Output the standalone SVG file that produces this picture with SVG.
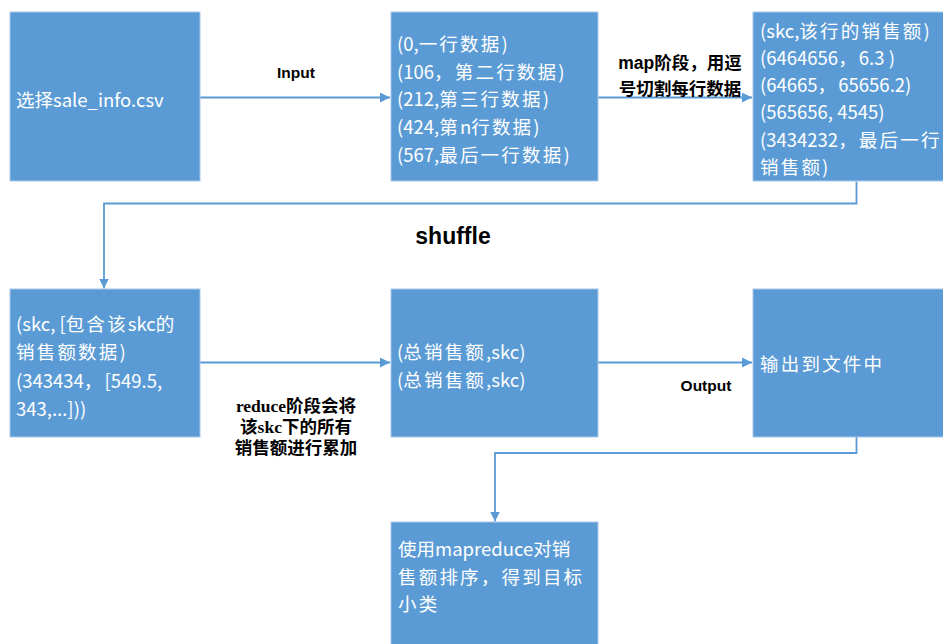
<svg xmlns="http://www.w3.org/2000/svg" width="943" height="644" viewBox="0 0 943 644">
<defs>
<marker id="arr" markerUnits="userSpaceOnUse" markerWidth="11" markerHeight="10" refX="10" refY="5" orient="auto">
<path d="M0,0 L10,5 L0,10 Z" fill="#5B9BD5"/>
</marker>
<style>
.box{fill:#5B9BD5;stroke:#A9C8EA;stroke-width:1}
.t{fill:#FFFFFF;font-family:"Noto Sans CJK SC","Noto Sans",sans-serif;font-size:18.5px;dominant-baseline:central}
.c{letter-spacing:2.2px}
.lbl{fill:#000;font-family:"Liberation Sans","Noto Sans CJK SC",sans-serif;font-weight:bold;dominant-baseline:central;text-anchor:middle}
.cn{fill:#000;font-family:"Liberation Serif","Noto Sans CJK SC",serif;font-weight:bold;font-size:17.5px;dominant-baseline:central;text-anchor:middle}
.ln{fill:none;stroke:#5B9BD5;stroke-width:1.8}
</style>
</defs>
<rect width="943" height="644" fill="#FFFFFF"/>
<g id="connectors">
<line class="ln" x1="200" y1="97.5" x2="390" y2="97.5" marker-end="url(#arr)"/>
<line class="ln" x1="598" y1="97.5" x2="752" y2="97.5" marker-end="url(#arr)"/>
<polyline class="ln" points="856.5,181.5 856.5,203.5 104,203.5 104,288.5" marker-end="url(#arr)"/>
<line class="ln" x1="200" y1="362.5" x2="390" y2="362.5" marker-end="url(#arr)"/>
<line class="ln" x1="598" y1="362.5" x2="752" y2="362.5" marker-end="url(#arr)"/>
<polyline class="ln" points="856.5,437 856.5,453 495,453 495,521.5" marker-end="url(#arr)"/>
</g>
<g id="labels">
<text class="lbl" x="296" y="72" font-size="15.5">Input</text>
<text class="lbl" x="680" y="63" font-size="17.5">map阶段，用逗</text>
<text class="lbl" x="680" y="89" font-size="17.5">号切割每行数据</text>
<text class="lbl" x="453" y="236" font-size="23">shuffle</text>
<text class="cn" x="296" y="406">reduce阶段会将</text>
<text class="cn" x="296" y="427">该skc下的所有</text>
<text class="cn" x="296" y="448">销售额进行累加</text>
<text class="lbl" x="706" y="385" font-size="15.5">Output</text>
</g>
<g id="n1">
<rect class="box" x="10" y="12" width="190" height="169"/>
<text class="t" x="16" y="99">选择sale_info.csv</text>
</g>
<g id="n2">
<rect class="box" x="391" y="12" width="207" height="169"/>
<text class="t" x="397" y="43">(0,<tspan class="c">一行数据</tspan>)</text>
<text class="t" x="397" y="71">(106<tspan class="c">，第二行数据</tspan>)</text>
<text class="t" x="397" y="98">(212,<tspan class="c">第三行数据</tspan>)</text>
<text class="t" x="397" y="126">(424,<tspan class="c">第</tspan>n<tspan class="c">行数据</tspan>)</text>
<text class="t" x="397" y="154">(567,<tspan class="c">最后一行数据</tspan>)</text>
</g>
<g id="n3">
<rect class="box" x="753" y="12" width="200" height="169"/>
<text class="t" x="760" y="30">(skc,<tspan class="c">该行的销售额</tspan>)</text>
<text class="t" x="760" y="57">(6464656<tspan class="c">，</tspan>6.3 )</text>
<text class="t" x="760" y="84">(64665<tspan class="c">，</tspan>65656.2)</text>
<text class="t" x="760" y="111">(565656, 4545)</text>
<text class="t" x="760" y="139">(3434232<tspan class="c">，最后一行</tspan></text>
<text class="t" x="760" y="166"><tspan class="c">销售额</tspan>)</text>
</g>
<g id="n4">
<rect class="box" x="10" y="289" width="190" height="148"/>
<text class="t" x="16" y="323">(skc, [<tspan class="c">包含该</tspan>skc<tspan class="c">的</tspan></text>
<text class="t" x="16" y="351"><tspan class="c">销售额数据</tspan>)</text>
<text class="t" x="16" y="380">(343434<tspan class="c">，</tspan>[549.5,</text>
<text class="t" x="16" y="408">343,...]))</text>
</g>
<g id="n5">
<rect class="box" x="391" y="289" width="207" height="148"/>
<text class="t" x="397" y="351">(<tspan class="c">总销售额</tspan>,skc)</text>
<text class="t" x="397" y="379">(<tspan class="c">总销售额</tspan>,skc)</text>
</g>
<g id="n6">
<rect class="box" x="753" y="289" width="200" height="148"/>
<text class="t c" x="760" y="363">输出到文件中</text>
</g>
<g id="n7">
<rect class="box" x="391" y="522" width="207" height="130"/>
<text class="t" x="398" y="548">使用mapreduce对销</text>
<text class="t c" x="398" y="576">售额排序，得到目标</text>
<text class="t c" x="398" y="603">小类</text>
</g>
</svg>
